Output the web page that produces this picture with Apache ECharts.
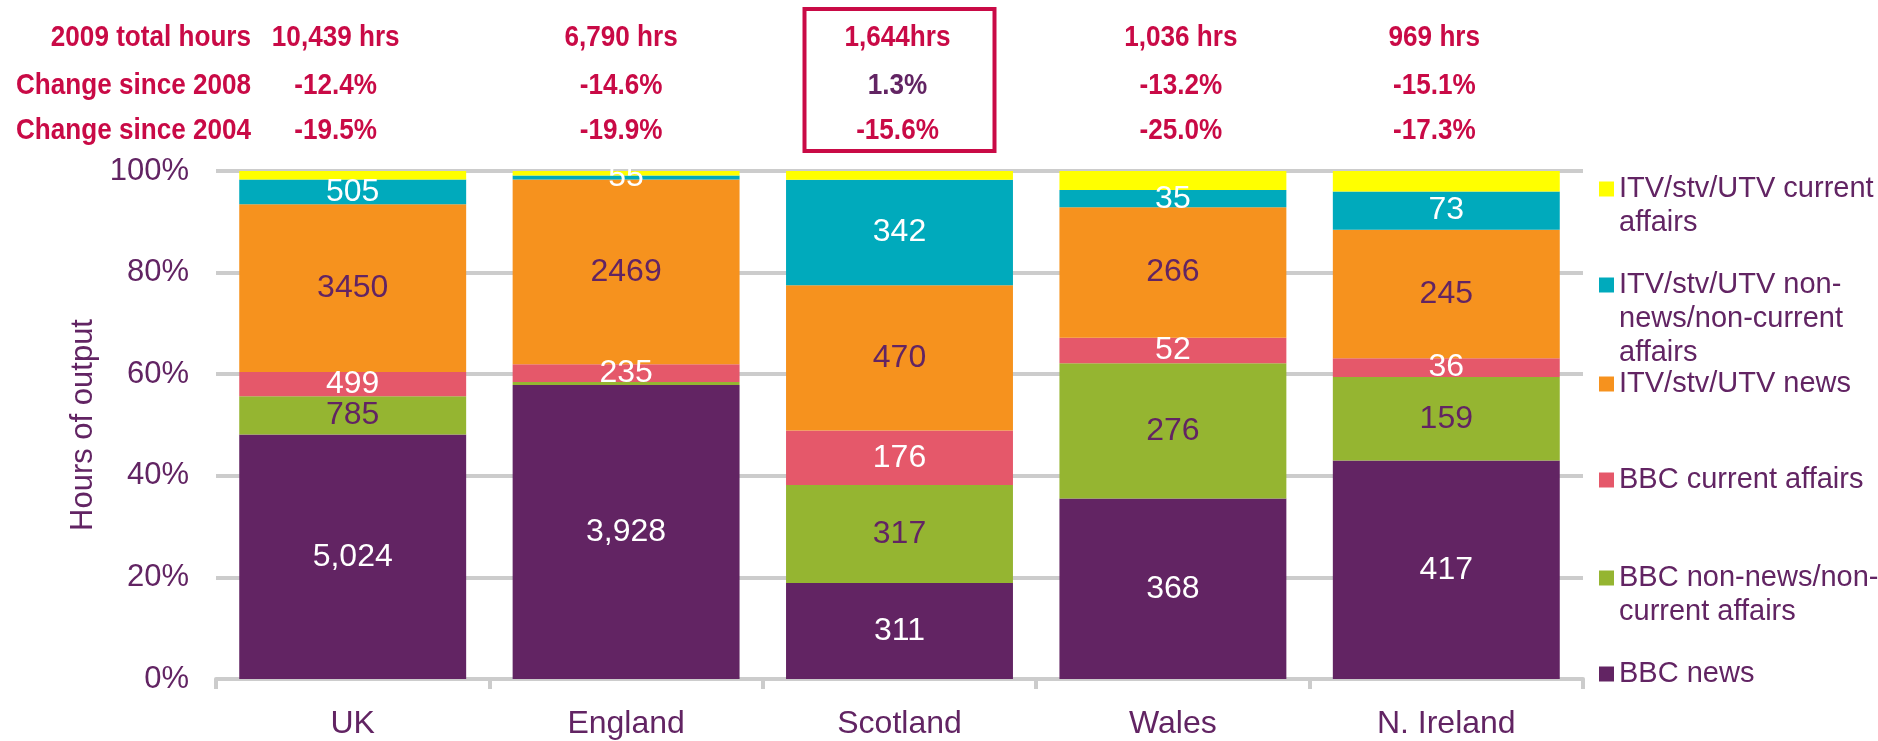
<!DOCTYPE html>
<html>
<head>
<meta charset="utf-8">
<title>Hours of output 2009</title>
<script src="https://cdn.jsdelivr.net/npm/echarts@6/dist/echarts.min.js"></script>
<style>
  html, body { margin: 0; padding: 0; background: #fff; }
  #chart { width: 1878px; height: 741px; }
</style>
</head>
<body>
<div id="chart"></div>
<script>
// nations along the x axis
var nations = ['UK', 'England', 'Scotland', 'Wales', 'N. Ireland'];

// hours of output, bottom of the bar to the top
var bbcNews    = [5024, 3928, 311, 368, 417];
var bbcNonNews = [785, 43, 317, 276, 159];
var bbcCurrent = [499, 235, 176, 52, 36];
var itvNews    = [3450, 2469, 470, 266, 245];
var itvNonNews = [505, 55, 342, 35, 73];
var itvCurrent = [176, 60, 28, 39, 39];

// y axis ticks (share of hours, %)
var yTicks = [0, 20, 40, 60, 80, 100];

// rows above the chart
var totalHours = ['10,439 hrs', '6,790 hrs', '1,644hrs', '1,036 hrs', '969 hrs'];
var change2008 = ['-12.4%', '-14.6%', '1.3%', '-13.2%', '-15.1%'];
var change2004 = ['-19.5%', '-19.9%', '-15.6%', '-25.0%', '-17.3%'];
var rowTitles  = ['2009 total hours', 'Change since 2008', 'Change since 2004'];

var PURPLE = '#622463';
var RED = '#C90A46';
var GRID = '#CCCCCC';
var FONT = "'Liberation Sans', Arial, sans-serif";

var layers = [
    {name: 'BBC news', data: bbcNews, color: '#622463', label: '#fff', comma: true},
    {name: 'BBC non-news/non-\ncurrent affairs', data: bbcNonNews, color: '#95B531', label: PURPLE, hide: [1]},
    {name: 'BBC current affairs', data: bbcCurrent, color: '#E5586A', label: '#fff'},
    {name: 'ITV/stv/UTV news', data: itvNews, color: '#F6921E', label: PURPLE},
    {name: 'ITV/stv/UTV non-\nnews/non-current\naffairs', data: itvNonNews, color: '#00AABC', label: '#fff'},
    {name: 'ITV/stv/UTV current\naffairs', data: itvCurrent, color: '#FFFF00', label: null}
];

// totals per nation, used to turn hours into shares of 100%
var totals = nations.map(function (n, i) {
    return layers.reduce(function (s, l) { return s + l.data[i]; }, 0);
});

var series = layers.map(function (l) {
    return {
        name: l.name,
        type: 'bar',
        stack: 'all',
        barCategoryGap: '17%',
        itemStyle: {color: l.color},
        data: l.data.map(function (h, i) {
            return {value: h / totals[i] * 100, hours: h, idx: i};
        }),
        label: {
            show: !!l.label,
            position: 'inside',
            color: l.label || '#fff',
            fontFamily: FONT,
            fontSize: 32,
            formatter: function (p) {
                if (l.hide && l.hide.indexOf(p.data.idx) >= 0) return '';
                var h = p.data.hours;
                return l.comma ? h.toLocaleString('en-GB') : String(h);
            }
        }
    };
});

// legend: one block per entry; blank lines put in front keep the
// square level with the first line of a wrapped name
var LINE = 34;
var iconCenters = [674, 578, 480, 384, 285, 189];
var legends = layers.map(function (l, k) {
    var n = l.name.split('\n').length;
    return {
        orient: 'vertical',
        left: 1599,
        top: iconCenters[k] - (2 * n - 1) * LINE / 2,
        padding: 0,
        itemWidth: 15,
        itemHeight: 15,
        icon: 'rect',
        selectedMode: false,
        data: [l.name],
        formatter: function (name) {
            return new Array(n).join('\n') + name;
        },
        textStyle: {color: PURPLE, fontFamily: FONT, fontSize: 29, lineHeight: LINE}
    };
});

var chart = echarts.init(document.getElementById('chart'));
chart.setOption({
    animation: false,
    textStyle: {fontFamily: FONT},
    grid: {left: 216, right: 295, top: 171, bottom: 62},
    legend: legends,
    xAxis: {
        type: 'category',
        data: nations,
        axisLine: {lineStyle: {color: GRID, width: 4}},
        axisTick: {show: true, length: 10, lineStyle: {color: GRID, width: 4}},
        axisLabel: {color: PURPLE, fontSize: 32, margin: 29, fontFamily: FONT}
    },
    yAxis: {
        type: 'value',
        min: yTicks[0],
        max: yTicks[yTicks.length - 1],
        interval: yTicks[1] - yTicks[0],
        name: 'Hours of output',
        nameLocation: 'middle',
        nameGap: 105,
        nameTextStyle: {color: PURPLE, fontSize: 31, fontFamily: FONT},
        axisLine: {show: false},
        axisTick: {show: false},
        axisLabel: {color: PURPLE, fontSize: 31, margin: 27, fontFamily: FONT, formatter: '{value}%'},
        splitLine: {lineStyle: {color: GRID, width: 4}}
    },
    series: series
});

// header table: condensed bold text above each bar, row titles on the left,
// and the box round Scotland
var rowY = [38, 86, 131];
var colShift = [-17, -5, -2, 8, -12];
var headFont = 'bold 30px ' + FONT;
var graphics = [];
rowTitles.forEach(function (t, r) {
    graphics.push({
        type: 'text', x: 251, y: rowY[r], scaleX: 0.87,
        style: {text: t, fill: RED, font: headFont, align: 'right', verticalAlign: 'middle'}
    });
});
[totalHours, change2008, change2004].forEach(function (row, r) {
    row.forEach(function (txt, i) {
        var cx = chart.convertToPixel({xAxisIndex: 0}, nations[i]) + colShift[i];
        graphics.push({
            type: 'text', x: cx, y: rowY[r], scaleX: 0.87,
            style: {
                text: txt,
                fill: (r === 1 && i === 2) ? PURPLE : RED,
                font: headFont, align: 'center', verticalAlign: 'middle'
            }
        });
    });
});
var scotX = chart.convertToPixel({xAxisIndex: 0}, 'Scotland');
graphics.push({
    type: 'rect',
    shape: {x: scotX - 95, y: 9, width: 190, height: 142},
    style: {fill: 'none', stroke: RED, lineWidth: 4}
});
chart.setOption({graphic: graphics});
</script>
</body>
</html>
